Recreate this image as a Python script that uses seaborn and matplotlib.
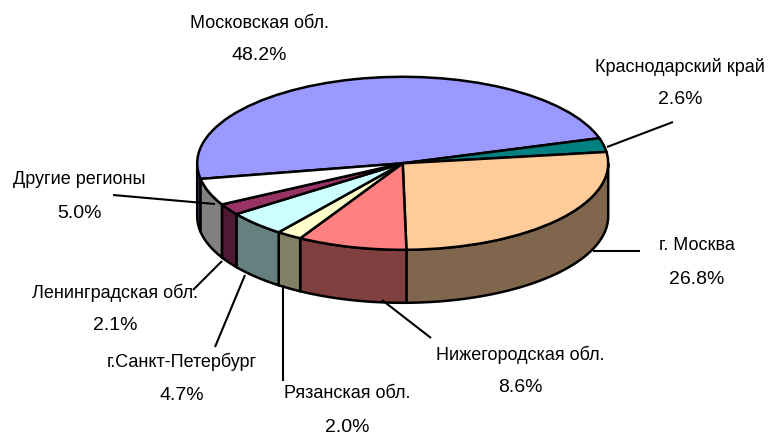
import numpy as np
import seaborn as sns
import matplotlib as mpl
import matplotlib.pyplot as plt
from matplotlib.transforms import Affine2D

mpl.use('Agg')

regions = ['Московская обл.', 'Краснодарский край', 'г. Москва', 'Нижегородская обл.',
           'Рязанская обл.', 'г.Санкт-Петербург', 'Ленинградская обл.', 'Другие регионы']
shares = [48.2, 2.6, 26.8, 8.6, 2.0, 4.7, 2.1, 5.0]
top_colors = ['#9999FF', '#008080', '#FFCC99', '#FF8080',
              '#FFFFCC', '#CCFFFF', '#993366', '#FFFFFF']

sns.set_theme(style='white')
plt.rcParams['font.family'] = ['Liberation Sans', 'DejaVu Sans']

# ellipse of the pie top, in image pixels
CX, CY = 402.7, 163.3
RX, RY = 205.5, 86.5
DEPTH = 53
START = 190.4
LW = 1.8

# x, y of name, y of percent, leader line from pie to label
label_layout = [
    (259, 23, 56, None),
    (680, 67, 100, ((607, 147), (673, 122))),
    (697, 246, 279, ((593, 251), (640, 251))),
    (520, 355, 388, ((382, 300), (431, 338))),
    (347, 394, 428, ((283, 285), (283, 381))),
    (182, 362, 396, ((245, 275), (215, 347))),
    (115, 293, 326, ((222, 261), (193, 290))),
    (79, 179, 213, ((215, 204), (113, 195))),
]

fig, ax = plt.subplots(figsize=(7.69, 4.37), dpi=100)
fig.subplots_adjust(0, 0, 1, 1)
palette = sns.color_palette(top_colors)

# front wall of the pie first, the top goes over it
edges = START - np.cumsum([0] + shares) * 3.6
for i, col in enumerate(palette):
    for shift in (0, -360):
        hi = min(edges[i] + shift, 0)
        lo = max(edges[i + 1] + shift, -180)
        if hi <= lo:
            continue
        th = np.radians(np.linspace(hi, lo, 60))
        x = CX + RX * np.cos(th)
        y = CY - RY * np.sin(th)
        ax.fill(np.r_[x, x[::-1]], np.r_[y, y[::-1] + DEPTH],
                facecolor=[c * 0.5 for c in col], edgecolor='black', linewidth=LW, zorder=1)

wedges, _ = ax.pie(shares, colors=palette, startangle=START, counterclock=False,
                   wedgeprops=dict(edgecolor='black', linewidth=LW))
squash = Affine2D().scale(RX, -RY).translate(CX, CY)
for w in wedges:
    w.set_transform(squash + ax.transData)
    w.set_zorder(2)

ax.set_aspect('auto')
ax.set_xlim(0, 769)
ax.set_ylim(437, 0)
ax.axis('off')

for name, val, (tx, ty, py, leader) in zip(regions, shares, label_layout):
    ax.text(tx, ty, name, ha='center', va='center', fontsize=13, color='black')
    ax.text(tx, py, f'{val:.1f}%', ha='center', va='center', fontsize=14, color='black')
    if leader is not None:
        ax.plot(*zip(*leader), color='black', linewidth=1.5, zorder=3, solid_capstyle='butt')

fig.savefig('out.png', dpi=100)
plt.close()
